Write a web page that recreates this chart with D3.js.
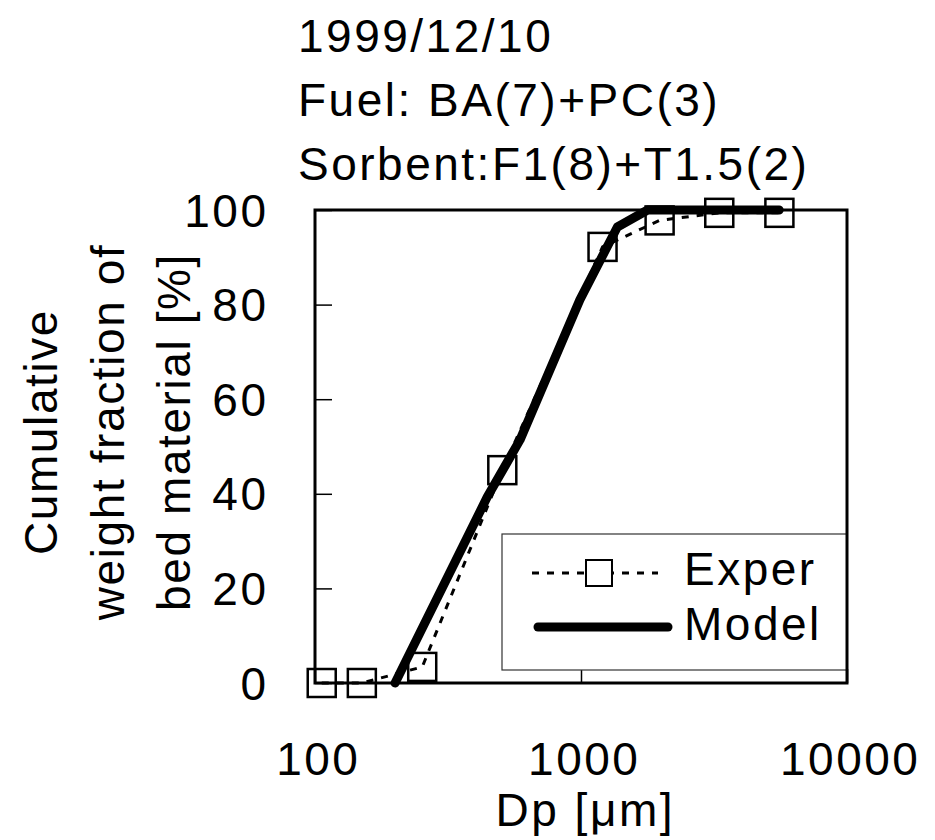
<!DOCTYPE html>
<html>
<head>
<meta charset="utf-8">
<script src="https://cdn.jsdelivr.net/npm/d3@7"></script>
<style>
  html, body { margin: 0; padding: 0; background: #fff; }
  svg text { font-family: "Liberation Sans", Arial, sans-serif; fill: #000; }
</style>
</head>
<body>
<svg id="chart" width="935" height="840"></svg>
<script>
// ---- data ----
const titleLines = ["1999/12/10", "Fuel: BA(7)+PC(3)", "Sorbent:F1(8)+T1.5(2)"];
const yLabelLines = ["Cumulative", "weight fraction of", "bed material [%]"];
const xLabel = "Dp [\u03bcm]";
const xTicks = [100, 1000, 10000];
const yTicks = [0, 20, 40, 60, 80, 100];
const seriesNames = ["Exper", "Model"];
const experDp  = [106, 150, 253, 506, 1205, 1975, 3310, 5570];
const experCum = [0, 0, 3.4, 45.0, 92.2, 97.8, 99.4, 99.4];
const modelDp  = [200, 444, 590, 764, 990, 1370, 1780, 5560];
const modelCum = [0, 39.3, 51.4, 66.2, 81.0, 96.4, 100, 100];

// ---- layout ----
const svg = d3.select("#chart");
const L = 315, R = 847, T = 210, B = 683;
const fs = 46;
const ls = 2.5;

const x = d3.scaleLog().domain([100, 10000]).range([L, R]);
const y = d3.scaleLinear().domain([0, 100]).range([B, T]);

// title
svg.append("g").selectAll("text").data(titleLines).join("text")
  .attr("x", 298).attr("y", (d, i) => 52 + i * 64)
  .attr("font-size", fs).attr("letter-spacing", ls)
  .text(d => d);

// y axis label
svg.append("g").selectAll("text").data(yLabelLines).join("text")
  .attr("transform", (d, i) => `translate(${57 + i * 66.5},432) rotate(-90)`)
  .attr("text-anchor", "middle")
  .attr("font-size", fs).attr("letter-spacing", 1.6)
  .text(d => d);

// y ticks (inside)
const yAxis = d3.axisRight(y).tickValues(yTicks).tickSize(17).tickFormat("");
const gy = svg.append("g").attr("transform", `translate(${L},0)`).call(yAxis);
gy.select(".domain").remove();
gy.selectAll("line").attr("stroke", "#000").attr("stroke-width", 1.5);
svg.append("g").selectAll("text").data(yTicks).join("text")
  .attr("x", 266 + ls).attr("y", d => y(d)).attr("dy", "0.36em")
  .attr("text-anchor", "end").attr("font-size", fs).attr("letter-spacing", ls)
  .text(d => d);

// x ticks (inside, pointing up)
const xAxis = d3.axisTop(x).tickValues(xTicks).tickSize(14).tickFormat("");
const gx = svg.append("g").attr("transform", `translate(0,${B})`).call(xAxis);
gx.select(".domain").remove();
gx.selectAll("line").attr("stroke", "#000").attr("stroke-width", 1.5);
svg.append("g").selectAll("text").data(xTicks).join("text")
  .attr("x", d => x(d) + 2 + ls / 2).attr("y", 775)
  .attr("text-anchor", "middle").attr("font-size", fs).attr("letter-spacing", ls)
  .text(d => d);

svg.append("text").attr("x", 584 + ls / 2).attr("y", 826)
  .attr("text-anchor", "middle").attr("font-size", fs).attr("letter-spacing", ls)
  .text(xLabel);

// legend box (behind the data)
const lg = svg.append("g");
lg.append("rect").attr("x", 502).attr("y", 534).attr("width", R - 502).attr("height", 136)
  .attr("fill", "#fff").attr("stroke", "#333").attr("stroke-width", 1.2);

// frame
svg.append("rect").attr("x", L).attr("y", T).attr("width", R - L).attr("height", B - T)
  .attr("fill", "none").attr("stroke", "#000").attr("stroke-width", 3);

// series
const experData = experDp.map((d, i) => [d, experCum[i]]);
const modelData = modelDp.map((d, i) => [d, modelCum[i]]);
const line = d3.line().x(d => x(d[0])).y(d => y(d[1]));

svg.append("path").datum(experData).attr("d", line)
  .attr("fill", "none").attr("stroke", "#000").attr("stroke-width", 3)
  .attr("stroke-dasharray", "7,8");
const ms = 28;
svg.append("g").selectAll("rect").data(experData).join("rect")
  .attr("x", d => x(d[0]) - ms / 2).attr("y", d => y(d[1]) - ms / 2)
  .attr("width", ms).attr("height", ms)
  .attr("fill", "none").attr("stroke", "#000").attr("stroke-width", 2.5);

svg.append("path").datum(modelData).attr("d", line)
  .attr("fill", "none").attr("stroke", "#000").attr("stroke-width", 9)
  .attr("stroke-linecap", "round").attr("stroke-linejoin", "round");

// legend entries
lg.append("line").attr("x1", 532).attr("x2", 658).attr("y1", 573).attr("y2", 573)
  .attr("stroke", "#000").attr("stroke-width", 3).attr("stroke-dasharray", "7,8");
lg.append("rect").attr("x", 599 - 13).attr("y", 573 - 13).attr("width", 26).attr("height", 26)
  .attr("fill", "#fff").attr("stroke", "#000").attr("stroke-width", 2);
lg.append("line").attr("x1", 538).attr("x2", 672 - 4).attr("y1", 627).attr("y2", 627)
  .attr("stroke", "#000").attr("stroke-width", 9).attr("stroke-linecap", "round");
lg.selectAll("text.lt").data(seriesNames).join("text").attr("class", "lt")
  .attr("x", 684).attr("y", (d, i) => 585 + i * 55)
  .attr("font-size", fs).attr("letter-spacing", ls)
  .text(d => d);
</script>
</body>
</html>
